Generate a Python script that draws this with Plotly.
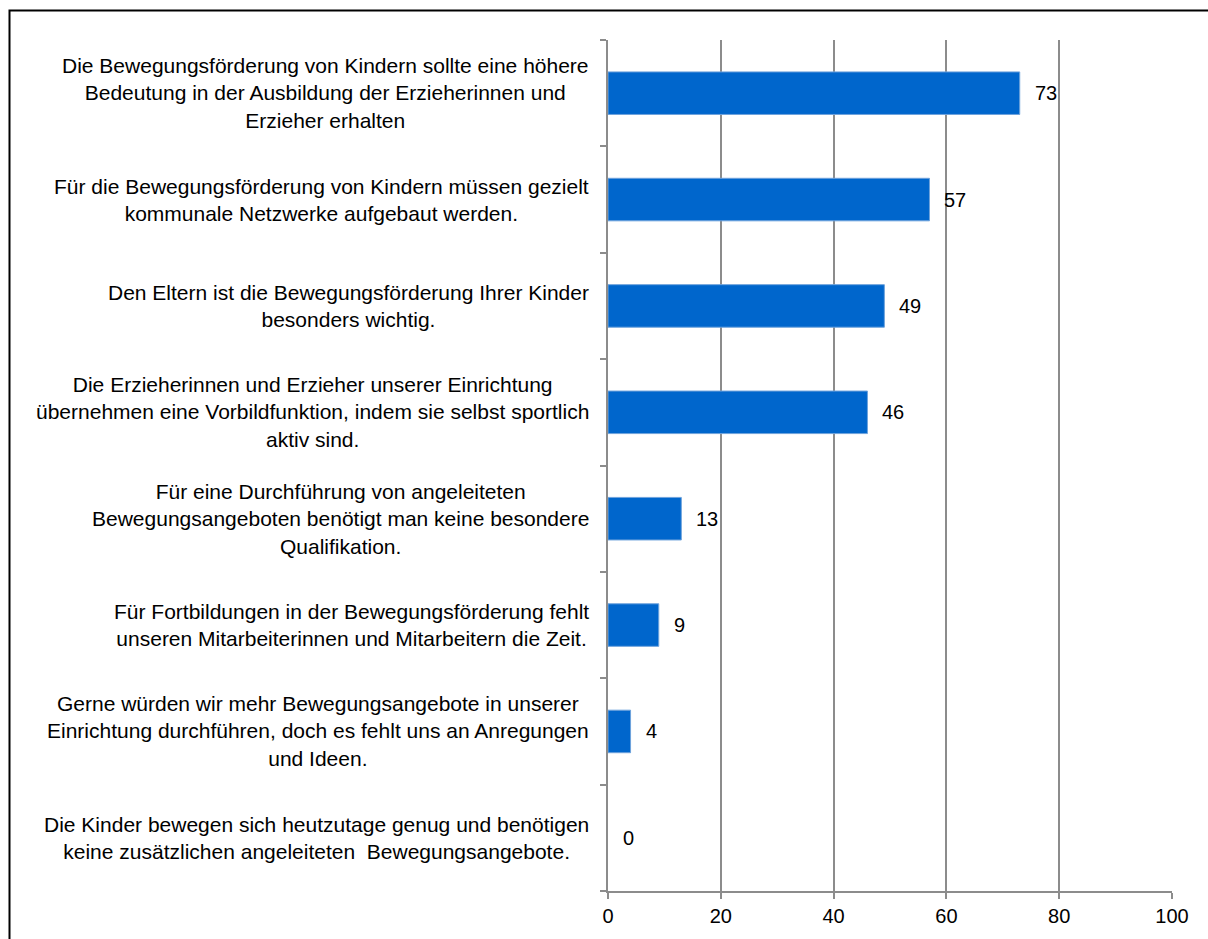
import plotly.graph_objects as go

statements = [
    "Die Bewegungsförderung von Kindern sollte eine höhere<br>Bedeutung in der Ausbildung der Erzieherinnen und<br>Erzieher erhalten",
    "Für die Bewegungsförderung von Kindern müssen gezielt<br>kommunale Netzwerke aufgebaut werden.",
    "Den Eltern ist die Bewegungsförderung Ihrer Kinder<br>besonders wichtig.",
    "Die Erzieherinnen und Erzieher unserer Einrichtung<br>übernehmen eine Vorbildfunktion, indem sie selbst sportlich<br>aktiv sind.",
    "Für eine Durchführung von angeleiteten<br>Bewegungsangeboten benötigt man keine besondere<br>Qualifikation.",
    "Für Fortbildungen in der Bewegungsförderung fehlt<br>unseren Mitarbeiterinnen und Mitarbeitern die Zeit.",
    "Gerne würden wir mehr Bewegungsangebote in unserer<br>Einrichtung durchführen, doch es fehlt uns an Anregungen<br>und Ideen.",
    "Die Kinder bewegen sich heutzutage genug und benötigen<br>keine zusätzlichen angeleiteten  Bewegungsangebote.",
]
values = [73, 57, 49, 46, 13, 9, 4, 0]
x_ticks = [0, 20, 40, 60, 80, 100]

FONT = "Liberation Sans, Arial, sans-serif"
GRID = "#8c8c8c"

W, H = 1208, 939
ML, MR, MT, MB = 608, 36, 40, 46

fig = go.Figure(
    go.Bar(
        x=values,
        y=list(range(len(statements))),
        orientation="h",
        marker=dict(
            color="#0066CC",
            line=dict(color="#6fa3dc", width=[1 if v > 0 else 0 for v in values]),
        ),
        width=0.4,
        hoverinfo="skip",
    )
)

# value labels to the right of each bar
for i, v in enumerate(values):
    fig.add_annotation(
        x=v, y=i, xref="x", yref="y", text=str(v), showarrow=False,
        xanchor="left", xshift=13, font=dict(size=20, color="black", family=FONT),
    )

# statement labels, centred lines, right-aligned block
for i, s in enumerate(statements):
    fig.add_annotation(
        x=0, y=i, xref="paper", yref="y", text=s, showarrow=False,
        xanchor="right", align="center", xshift=-17,
        font=dict(size=21, color="black", family=FONT),
    )

# outer frame around the chart
pw, ph = W - ML - MR, H - MT - MB
fig.add_shape(
    type="rect", xref="paper", yref="paper",
    x0=(9.5 - ML) / pw, x1=(W + 5 - ML) / pw,
    y0=(H - MB - (H + 5)) / ph, y1=(H - MB - 10.5) / ph,
    line=dict(color="black", width=2), fillcolor="rgba(0,0,0,0)", layer="below",
)

fig.update_xaxes(
    range=[0, 100], tickvals=x_ticks, showgrid=True, gridcolor=GRID, gridwidth=2,
    showline=True, linecolor=GRID, linewidth=2, ticks="outside", ticklen=6,
    tickcolor=GRID, tickwidth=2, zeroline=False,
    tickfont=dict(size=20, color="black", family=FONT),
)
fig.update_yaxes(
    range=[len(statements) - 0.5, -0.5], tickvals=[i - 0.5 for i in range(len(statements) + 1)],
    showticklabels=False, showgrid=False, zeroline=False,
    showline=True, linecolor=GRID, linewidth=2, ticks="outside", ticklen=6,
    tickcolor=GRID, tickwidth=2,
)

fig.update_layout(
    width=W, height=H,
    margin=dict(l=ML, r=MR, t=MT, b=MB),
    plot_bgcolor="white", paper_bgcolor="white",
    showlegend=False,
    font=dict(family=FONT, color="black"),
)

fig.write_html("out.html")
